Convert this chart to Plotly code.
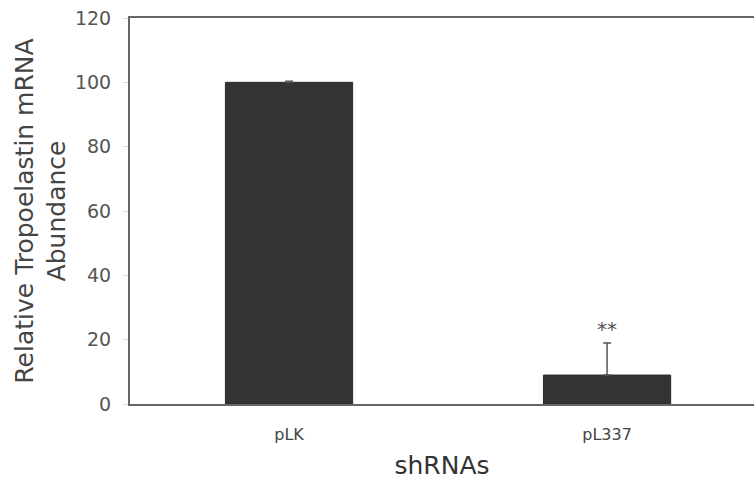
import plotly.graph_objects as go

# shRNA constructs and relative tropoelastin mRNA levels (%)
categories = ["pLK", "pL337"]
abundance = [100, 9]
error_up = [0.3, 10]
significance = ["", "**"]

fig = go.Figure()
fig.add_trace(go.Bar(
    x=categories,
    y=abundance,
    width=0.4,
    marker=dict(color="#333333", line=dict(color="#2a2a2a", width=1)),
    error_y=dict(type="data", array=error_up, arrayminus=[0, 0], symmetric=False,
                 color="#555555", thickness=1.5, width=4),
    showlegend=False,
))

for cat, val, err, sig in zip(categories, abundance, error_up, significance):
    if sig:
        fig.add_annotation(x=cat, y=val + err, text=sig, showarrow=False,
                           yanchor="bottom", yshift=0,
                           font=dict(family="DejaVu Sans", size=20, color="#555555"))

fig.update_layout(
    width=754, height=481,
    margin=dict(l=130, r=0, t=18, b=77),
    paper_bgcolor="white", plot_bgcolor="white",
    font=dict(family="DejaVu Sans", color="#444444"),
    bargap=0.6,
)
fig.update_xaxes(
    range=[-0.5, 1.462],
    showline=True, linecolor="#666666", linewidth=2, mirror=True,
    ticks="", showgrid=False,
    tickfont=dict(size=16, color="#444444"),
    ticklabelstandoff=15,
    title=dict(text="shRNAs", font=dict(size=25, color="#333333"), standoff=13),
)
fig.update_yaxes(
    range=[0, 120], dtick=20,
    showline=True, linecolor="#666666", linewidth=2,
    ticks="outside", ticklen=5, tickcolor="#dddddd",
    showgrid=False, zeroline=False,
    tickfont=dict(size=19, color="#555555"),
    ticklabelstandoff=8,
    title=dict(text="Relative Tropoelastin mRNA<br>Abundance",
               font=dict(size=25, color="#444444"), standoff=2),
)

fig.write_html("out.html")
